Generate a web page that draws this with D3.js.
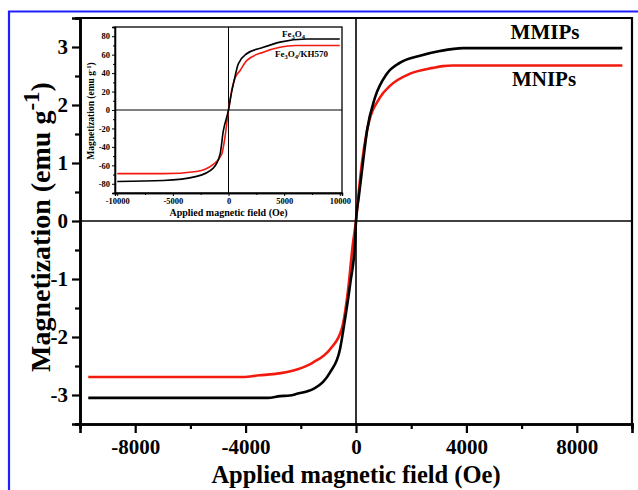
<!DOCTYPE html>
<html><head><meta charset="utf-8">
<script src="https://cdn.jsdelivr.net/npm/d3@7/dist/d3.min.js"></script>
<style>body{margin:0;background:#fff}svg{display:block;font-family:"Liberation Serif","Times New Roman",serif;font-weight:bold}</style>
</head><body>
<script>
// ---- Main chart data ----
const mmipsField = [-9700,-3200,-2750,-2400,-2140,-1560,-1200,-940,-580,-400,-200,-36,0,100,250,400,690,1120,1600,2320,3040,3880,9650];
const mmipsMag   = [-3.05,-3.05,-3.02,-3.01,-2.98,-2.90,-2.78,-2.61,-2.21,-1.70,-1.05,-0.38,0,0.41,1.0,1.56,2.13,2.54,2.73,2.85,2.93,2.98,2.98];
const mnipsField = [-9700,-4090,-3500,-3000,-2140,-1560,-940,-510,-290,-110,0,100,215,400,870,1230,1960,2790,3150,3500,9650];
const mnipsMag   = [-2.69,-2.69,-2.66,-2.64,-2.56,-2.44,-2.21,-1.85,-1.2,-0.38,0,0.5,1.0,1.56,2.13,2.33,2.54,2.64,2.67,2.68,2.68];
const mainXTicks = [-8000,-4000,0,4000,8000];
const mainXMinor = [-10000,-6000,-2000,2000,6000,10000];
const mainYTicks = [-3,-2,-1,0,1,2,3];
const mainYMinor = [-3.5,-2.5,-1.5,-0.5,0.5,1.5,2.5,3.5];
// ---- Inset data ----
const feField = [-10000,-5860,-2860,-1370,-760,-470,0,290,500,880,1630,3130,4630,7030,10000];
const feMag   = [-77.6,-76.5,-72,-63,-48,-23,0,20,31.7,50,61,68,73.6,77,77];
const khField = [-10000,-5860,-2860,-1370,-610,-300,0,300,600,1030,1630,3130,4630,6000,10000];
const khMag   = [-69,-69,-66.6,-59,-48,-28,0,22,35,42.6,53.6,62.7,68,70,70];
const insetXTicks = [-10000,-5000,0,5000,10000];
const insetXMinor = [-7500,-2500,2500,7500];
const insetYTicks = [-80,-60,-40,-20,0,20,40,60,80];
const insetYMinor = [-70,-50,-30,-10,10,30,50,70];

const W=638,H=490;
const svg=d3.select("body").append("svg").attr("width",W).attr("height",H);
// blue frame
svg.append("path").attr("d","M9,500 V11.5 H650").attr("fill","none").attr("stroke","#1f1fff").attr("stroke-width",2.2);

const x=d3.scaleLinear().domain([-10000,10000]).range([80,632]);
const y=d3.scaleLinear().domain([-3.5,3.5]).range([424,18]);

// zero lines
svg.append("line").attr("x1",x(0)).attr("x2",x(0)).attr("y1",y(3.5)).attr("y2",y(-3.5)).attr("stroke","#000").attr("stroke-width",1.6);
svg.append("line").attr("x1",x(-10000)).attr("x2",x(10000)).attr("y1",y(0)).attr("y2",y(0)).attr("stroke","#000").attr("stroke-width",1.6);

const line=d3.line().curve(d3.curveMonotoneX);
svg.append("path").attr("d",line(mnipsField.map((f,i)=>[x(f),y(mnipsMag[i])]))).attr("fill","none").attr("stroke","#f21a0f").attr("stroke-width",2.6);
svg.append("path").attr("d",line(mmipsField.map((f,i)=>[x(f),y(mmipsMag[i])]))).attr("fill","none").attr("stroke","#000").attr("stroke-width",2.6);

// frame top/right
svg.append("path").attr("d",`M${x(-10000)},${y(3.5)} H${x(10000)} V${y(-3.5)}`).attr("fill","none").attr("stroke","#000").attr("stroke-width",2.2);

const fmt=d=>d3.format("d")(d).replace("−","-");
// axes
const xAx=svg.append("g").attr("transform",`translate(0,${y(-3.5)})`)
  .call(d3.axisBottom(x).tickValues(mainXTicks).tickSize(9).tickPadding(6).tickFormat(fmt));
const xMin=svg.append("g").attr("transform",`translate(0,${y(-3.5)})`)
  .call(d3.axisBottom(x).tickValues(mainXMinor).tickSize(5).tickFormat(""));
const yAx=svg.append("g").attr("transform",`translate(${x(-10000)},0)`)
  .call(d3.axisLeft(y).tickValues(mainYTicks).tickSize(8).tickPadding(4).tickFormat(fmt));
const yMin=svg.append("g").attr("transform",`translate(${x(-10000)},0)`)
  .call(d3.axisLeft(y).tickValues(mainYMinor).tickSize(5).tickFormat(""));
[xAx,xMin,yAx,yMin].forEach(g=>{
  g.selectAll(".domain").attr("stroke","#000").attr("stroke-width",2.6);
  g.selectAll(".tick line").attr("stroke","#000").attr("stroke-width",2.2);
  g.selectAll("text").attr("fill","#000").style("font-family","Liberation Serif").style("font-weight","bold").style("font-size","21px");
});

// axis titles
svg.append("text").attr("x",x(0)).attr("y",483).attr("text-anchor","middle").style("font-size","24.5px").text("Applied magnetic field (Oe)");
const yt=svg.append("text").attr("transform","translate(50,227) rotate(-90)").attr("text-anchor","middle").style("font-size","28px");
yt.append("tspan").text("Magnetization (emu g");
yt.append("tspan").attr("dy",-11).style("font-size","23px").text("-1");
yt.append("tspan").attr("dy",11).text(")");

// series labels
svg.append("text").attr("x",545).attr("y",39).attr("text-anchor","middle").style("font-size","21px").text("MMIPs");
svg.append("text").attr("x",544).attr("y",86).attr("text-anchor","middle").style("font-size","21px").text("MNIPs");

// ---- Inset ----
const ix=d3.scaleLinear().domain([-10200,10200]).range([115,342]);
const iy=d3.scaleLinear().domain([-90,90]).range([193,27]);
const ig=svg.append("g");
ig.append("rect").attr("x",ix(-10200)).attr("y",iy(90)).attr("width",ix(10200)-ix(-10200)).attr("height",iy(-90)-iy(90)).attr("fill","#fff").attr("stroke","#000").attr("stroke-width",1.3);
ig.append("line").attr("x1",ix(0)).attr("x2",ix(0)).attr("y1",iy(90)).attr("y2",iy(-90)).attr("stroke","#000").attr("stroke-width",1);
ig.append("line").attr("x1",ix(-10200)).attr("x2",ix(10200)).attr("y1",iy(0)).attr("y2",iy(0)).attr("stroke","#000").attr("stroke-width",1);
ig.append("path").attr("d",line(khField.map((f,i)=>[ix(f),iy(khMag[i])]))).attr("fill","none").attr("stroke","#f21a0f").attr("stroke-width",1.6);
ig.append("path").attr("d",line(feField.map((f,i)=>[ix(f),iy(feMag[i])]))).attr("fill","none").attr("stroke","#000").attr("stroke-width",1.6);
const ixA=ig.append("g").attr("transform",`translate(0,${iy(-90)})`).call(d3.axisBottom(ix).tickValues(insetXTicks).tickSize(3).tickPadding(2).tickFormat(fmt));
const ixM=ig.append("g").attr("transform",`translate(0,${iy(-90)})`).call(d3.axisBottom(ix).tickValues(insetXMinor).tickSize(2).tickFormat(""));
const iyA=ig.append("g").attr("transform",`translate(${ix(-10200)},0)`).call(d3.axisLeft(iy).tickValues(insetYTicks).tickSize(3).tickPadding(2).tickFormat(fmt));
const iyM=ig.append("g").attr("transform",`translate(${ix(-10200)},0)`).call(d3.axisLeft(iy).tickValues(insetYMinor).tickSize(2).tickFormat(""));
[ixA,ixM,iyA,iyM].forEach(g=>{
  g.selectAll(".domain").attr("stroke","#000").attr("stroke-width",1.3);
  g.selectAll(".tick line").attr("stroke","#000").attr("stroke-width",1);
  g.selectAll("text").attr("fill","#000").style("font-family","Liberation Serif").style("font-weight","bold").style("font-size","8.5px");
});
ig.append("text").attr("x",ix(0)).attr("y",216).attr("text-anchor","middle").style("font-size","10px").text("Applied magnetic field (Oe)");
const iyt=ig.append("text").attr("transform",`translate(94,${iy(0)+1}) rotate(-90)`).attr("text-anchor","middle").style("font-size","9.5px");
iyt.append("tspan").text("Magnetization (emu g");
iyt.append("tspan").attr("dy",-3).style("font-size","6.5px").text("-1");
iyt.append("tspan").attr("dy",3).text(")");
const l1=ig.append("text").attr("x",282).attr("y",37).style("font-size","9px");
l1.append("tspan").text("Fe");
l1.append("tspan").attr("dy",2).style("font-size","6.5px").text("3");
l1.append("tspan").attr("dy",-2).text("O");
l1.append("tspan").attr("dy",2).style("font-size","6.5px").text("4");
const l2=ig.append("text").attr("x",275).attr("y",57).style("font-size","9px");
l2.append("tspan").text("Fe");
l2.append("tspan").attr("dy",2).style("font-size","6.5px").text("3");
l2.append("tspan").attr("dy",-2).text("O");
l2.append("tspan").attr("dy",2).style("font-size","6.5px").text("4");
l2.append("tspan").attr("dy",-2).text("/KH570");
</script>
</body></html>
